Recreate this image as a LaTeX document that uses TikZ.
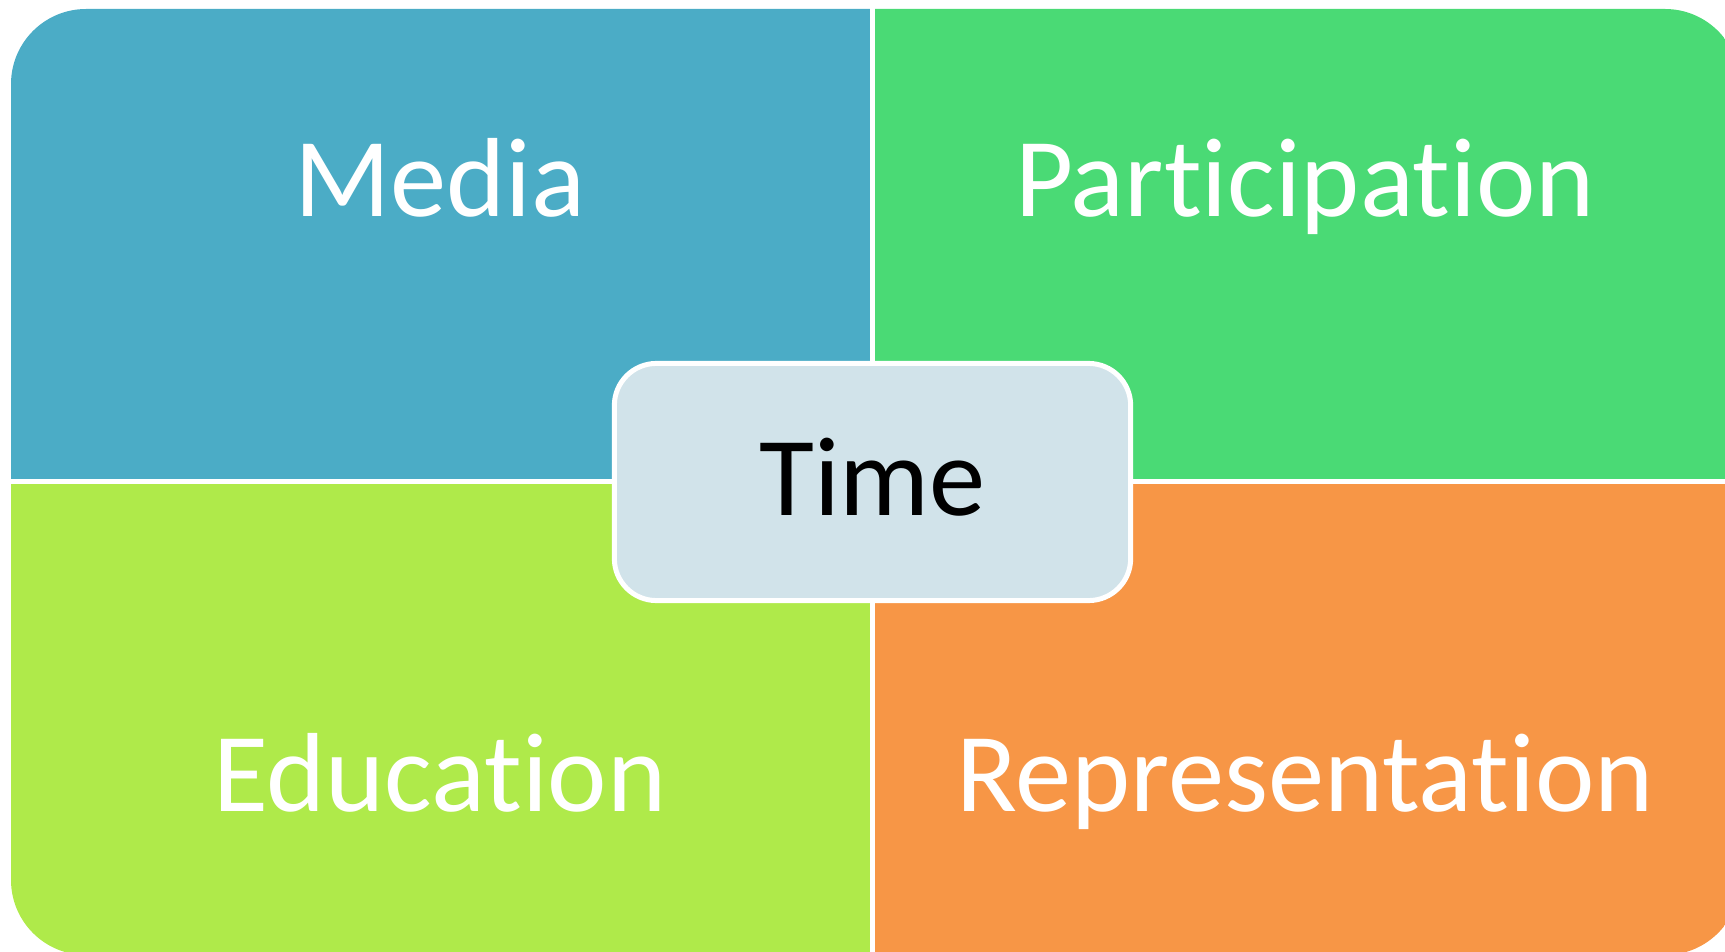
\documentclass[tikz,border=0pt]{standalone}
\usepackage{xcolor}
\usepackage{tikz}
\usepackage{fontspec}
\setmainfont{Carlito}[Ligatures=NoCommon]

\definecolor{mediablue}{HTML}{4BACC6}
\definecolor{partgreen}{HTML}{4ADA75}
\definecolor{edulime}{HTML}{AFEA4A}
\definecolor{reporange}{HTML}{F79646}
\definecolor{timegrey}{HTML}{D1E3EA}

\begin{document}
\begin{tikzpicture}[x=0.01cm, y=-0.01cm,
    quad/.style={rectangle, minimum width=9cm, minimum height=5cm, inner sep=0pt, outer sep=0pt},
    word/.style={anchor=base, inner sep=0pt, font=\fontsize{32}{38}\selectfont}]
                        \useasboundingbox (0,0) rectangle (1725,952);

                        % four quadrants, outer corners rounded by the clip
                        \begin{scope}
                            \clip[rounded corners=0.75cm] (11,9) rectangle (1740,955);
                            \node (media) at (869.5,478.5) [quad, anchor=south east, fill=mediablue] {};
                            \node (participation) at (874.5,478.5) [quad, anchor=south west, fill=partgreen] {};
                            \node (education) at (869.5,483.5) [quad, anchor=north east, fill=edulime] {};
                            \node (representation) at (874.5,483.5) [quad, anchor=north west, fill=reporange] {};
                        \end{scope}

                        \foreach \n/\t/\x/\y in {medialabel/Media/440/217, participationlabel/Participation/1305/217,
                                                 educationlabel/Education/440/811, representationlabel/Representation/1305/811} {
                            \node (\n) at (\x,\y) [word, text=white] {\t};
                        }

                        \node (time) at (872.5,482) [rectangle, rounded corners=0.42cm, draw=white, line width=0.05cm,
                            fill=timegrey, minimum width=5.16cm, minimum height=2.37cm, text depth=0.11cm,
                            font=\fontsize{32}{38}\selectfont] {Time};
                    \end{tikzpicture}
\end{document}
